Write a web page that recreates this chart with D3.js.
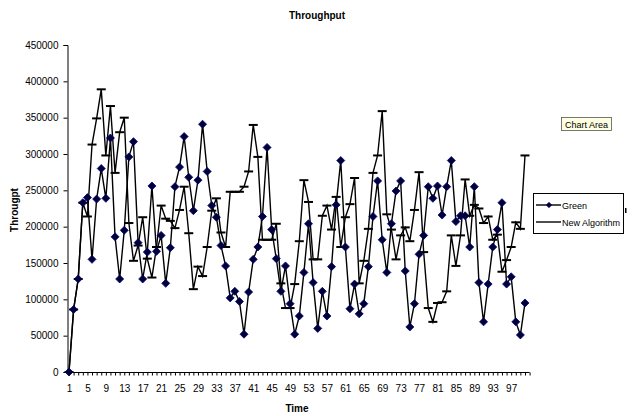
<!DOCTYPE html>
<html>
<head>
<meta charset="utf-8">
<script src="https://cdn.jsdelivr.net/npm/d3@7/dist/d3.min.js"></script>
<style>
  html, body { margin: 0; padding: 0; background: #fff; }
  svg { display: block; font-family: "Liberation Sans", Arial, sans-serif; }
</style>
</head>
<body>
<svg id="chart" width="634" height="416"></svg>
<script>
// ---- data ----
const categories = d3.range(1, 101);
const xTickLabels = [1, 5, 9, 13, 17, 21, 25, 29, 33, 37, 41, 45, 49, 53, 57, 61, 65, 69, 73, 77, 81, 85, 89, 93, 97];
const yTickValues = [0, 50000, 100000, 150000, 200000, 250000, 300000, 350000, 400000, 450000];
const seriesNames = ["Green", "New Algorithm"];
const green = [
  0, 86000, 128000, 233000, 240000, 155000, 238000, 280000, 239000, 322000,
  186000, 128000, 195000, 296000, 317000, 178000, 128000, 165000, 256000, 166000,
  188000, 122000, 171000, 255000, 282000, 324000, 268000, 222000, 264000, 341000,
  276000, 229000, 213000, 174000, 146000, 102000, 111000, 97000, 52000, 110000,
  155000, 172000, 214000, 309000, 196000, 156000, 111000, 146000, 94000, 52000,
  77000, 137000, 204000, 123000, 60000, 111000, 77000, 145000, 230000, 291000,
  172000, 87000, 121000, 80000, 94000, 145000, 214000, 263000, 182000, 137000,
  204000, 249000, 263000, 139000, 62000, 94000, 162000, 188000, 255000, 239000,
  256000, 216000, 255000, 291000, 207000, 215000, 215000, 172000, 255000, 123000,
  69000, 121000, 172000, 196000, 233000, 121000, 131000, 69000, 51000, 95000
];
const newAlgorithm = [
  0, 86000, 128000, 233000, 214000, 313000, 349000, 389000, 298000, 366000,
  274000, 330000, 350000, 205000, 153000, 174000, 213000, 156000, 130000, 172000,
  229000, 211000, 208000, 198000, 223000, 255000, 191000, 114000, 145000, 132000,
  172000, 222000, 239000, 192000, 172000, 248000, 248000, 248000, 255000, 276000,
  340000, 296000, 182000, 182000, 182000, 204000, 122000, 88000, 88000, 121000,
  180000, 264000, 234000, 155000, 155000, 215000, 229000, 196000, 241000, 172000,
  213000, 231000, 267000, 122000, 153000, 197000, 274000, 298000, 359000, 217000,
  196000, 155000, 188000, 199000, 180000, 223000, 275000, 165000, 88000, 69000,
  95000, 96000, 111000, 188000, 146000, 188000, 265000, 215000, 230000, 225000,
  205000, 214000, 182000, 189000, 138000, 154000, 172000, 206000, 197000, 298000
];

// ---- layout ----
const svg = d3.select("#chart");
const x = d3.scaleLinear().domain([1, 101]).range([69, 529.6]);
const y = d3.scaleLinear().domain([0, 450000]).range([372, 45]);

// title
svg.append("text").attr("x", 317).attr("y", 19).attr("text-anchor", "middle")
  .attr("font-size", 10).attr("font-weight", "bold").text("Throughput");

// y axis
const yAxis = svg.append("g").attr("transform", "translate(67.5,0)")
  .call(d3.axisLeft(y).tickValues(yTickValues).tickSize(4).tickPadding(5).tickFormat(d3.format("d")));
yAxis.select(".domain").attr("stroke", "#000");
yAxis.selectAll("line").attr("stroke", "#000");
yAxis.selectAll("text").attr("font-size", 10).attr("fill", "#000").attr("font-family", "Liberation Sans, Arial, sans-serif");

// x axis
const xAxis = svg.append("g").attr("transform", "translate(0,372.5)")
  .call(d3.axisBottom(x).tickValues(d3.range(1, 102)).tickSize(3).tickSizeOuter(0)
    .tickFormat(d => xTickLabels.includes(d) ? d : ""));
xAxis.select(".domain").attr("stroke", "#000").attr("d", `M67,0H${x(101)}`);
xAxis.selectAll("line").attr("stroke", "#000");
xAxis.selectAll("text").attr("font-size", 10).attr("fill", "#000").attr("y", 12)
  .attr("font-family", "Liberation Sans, Arial, sans-serif");

// axis titles
svg.append("text").attr("x", 297).attr("y", 412).attr("text-anchor", "middle")
  .attr("font-size", 10).attr("font-weight", "bold").text("Time");
svg.append("text").attr("transform", "translate(18,210) rotate(-90)").attr("text-anchor", "middle")
  .attr("font-size", 10).attr("font-weight", "bold").text("Througpt");

// lines
const line = d3.line().x((d, i) => x(categories[i])).y(d => y(d));
svg.append("path").datum(newAlgorithm).attr("d", line)
  .attr("fill", "none").attr("stroke", "#000").attr("stroke-width", 1.4);
svg.append("path").datum(green).attr("d", line)
  .attr("fill", "none").attr("stroke", "#000").attr("stroke-width", 1.4);

// NA dash markers
svg.append("g").selectAll("line").data(newAlgorithm).join("line")
  .attr("x1", (d, i) => x(categories[i]) - 4.5).attr("x2", (d, i) => x(categories[i]) + 4.5)
  .attr("y1", d => y(d)).attr("y2", d => y(d))
  .attr("stroke", "#000").attr("stroke-width", 2);

// Green diamond markers
const diamond = (cx, cy, r) => `M${cx},${cy - r}L${cx + r},${cy}L${cx},${cy + r}L${cx - r},${cy}Z`;
svg.append("g").selectAll("path").data(green).join("path")
  .attr("d", (d, i) => diamond(x(categories[i]), y(d), 4))
  .attr("fill", "#000033").attr("stroke", "#000080").attr("stroke-width", 0.8);

// legend
const lg = svg.append("g");
lg.append("rect").attr("x", 533.5).attr("y", 193.5).attr("width", 90).attr("height", 40)
  .attr("fill", "#fff").attr("stroke", "#000").attr("stroke-width", 1);
lg.append("line").attr("x1", 536).attr("x2", 561).attr("y1", 205).attr("y2", 205)
  .attr("stroke", "#000").attr("stroke-width", 1.4);
lg.append("path").attr("d", diamond(549, 205, 2.8)).attr("fill", "#000033").attr("stroke", "#000080").attr("stroke-width", 0.6);
lg.append("text").attr("x", 562).attr("y", 208.5).attr("font-size", 9).text(seriesNames[0]);
lg.append("line").attr("x1", 536).attr("x2", 561).attr("y1", 222).attr("y2", 222)
  .attr("stroke", "#000").attr("stroke-width", 1.4);
lg.append("text").attr("x", 562).attr("y", 225.5).attr("font-size", 9).text(seriesNames[1]);
lg.append("rect").attr("x", 625).attr("y", 208).attr("width", 1.5).attr("height", 5).attr("fill", "#000");

// "Chart Area" tooltip
svg.append("rect").attr("x", 561.5).attr("y", 117.5).attr("width", 50).attr("height", 13)
  .attr("fill", "#ffffe1").attr("stroke", "#555").attr("stroke-width", 0.8);
svg.append("text").attr("x", 586.5).attr("y", 127.5).attr("text-anchor", "middle")
  .attr("font-size", 9).text("Chart Area");
</script>
</body>
</html>
